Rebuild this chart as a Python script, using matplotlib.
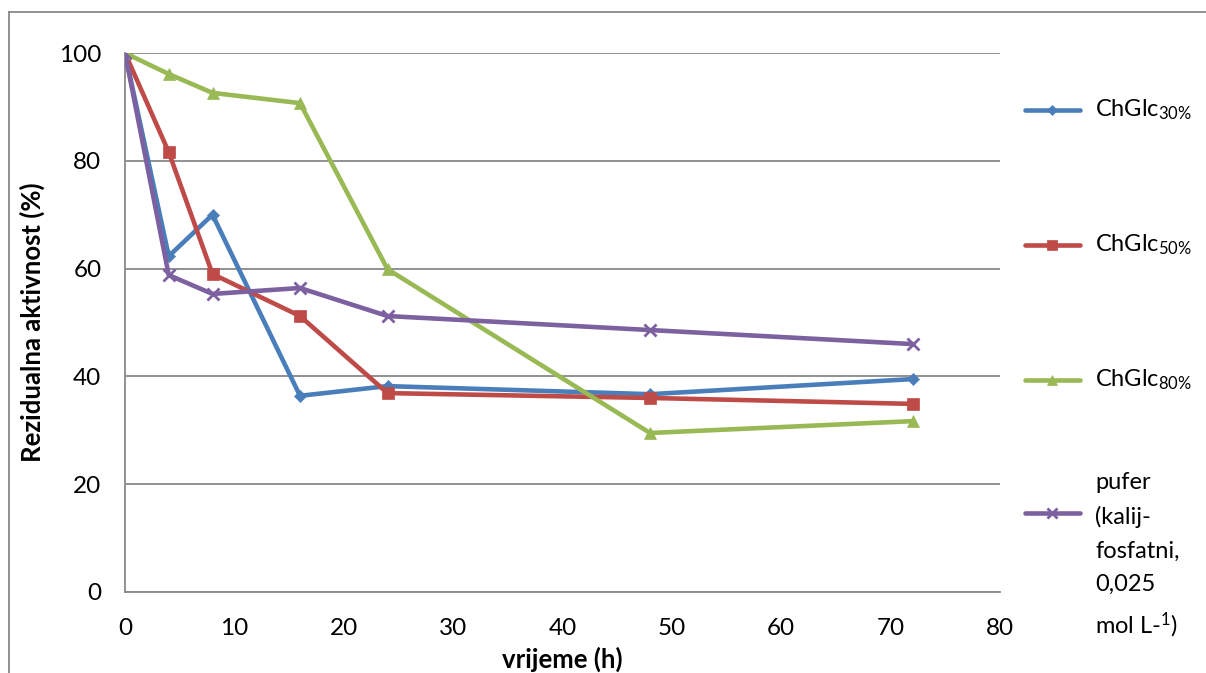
import matplotlib.pyplot as plt
from matplotlib.lines import Line2D

plt.rcParams['font.family'] = ['Lato', 'DejaVu Sans']
plt.rcParams['mathtext.fontset'] = 'custom'
plt.rcParams['mathtext.rm'] = 'Lato'
plt.rcParams['mathtext.it'] = 'Lato'

# vrijeme (h)
vrijeme = [0, 4, 8, 16, 24, 48, 72]
# rezidualna aktivnost (%)
chglc30 = [100, 62.3, 70.0, 36.4, 38.2, 36.7, 39.5]
chglc50 = [100, 81.6, 59.0, 51.2, 36.9, 36.0, 34.9]
chglc80 = [100, 96.1, 92.6, 90.7, 59.9, 29.5, 31.7]
pufer = [100, 58.8, 55.3, 56.4, 51.2, 48.6, 46.0]

labels = ['ChGlc$_{\\mathrm{30\\%}}$', 'ChGlc$_{\\mathrm{50\\%}}$', 'ChGlc$_{\\mathrm{80\\%}}$',
          'pufer\n(kalij-\nfosfatni,\n0,025\nmol L-$^{\\mathrm{1}}$)']
boje = ['#4A7EBB', '#BE4B48', '#98B954', '#7D60A0']
markeri = ['D', 's', '^', 'x']
msize = [6, 8, 8, 8]

W, H = 1206, 673
fig = plt.figure(figsize=(W / 100, H / 100), dpi=100)
ax = fig.add_axes([125 / W, 1 - 592 / H, 875 / W, 539 / H])

serije = [chglc30, chglc50, chglc80, pufer]
for i in range(4):
    ax.plot(vrijeme, serije[i], color=boje[i], lw=3.3, marker=markeri[i],
            markersize=msize[i], markeredgewidth=2 if markeri[i] == 'x' else 0.5,
            markeredgecolor=boje[i], zorder=3)

ax.set_xlim(0, 80)
ax.set_ylim(0, 100)
ax.set_xticks(range(0, 81, 10))
ax.set_yticks(range(0, 101, 20))
ax.yaxis.grid(True, color='#888888', lw=1.3)
ax.set_axisbelow(True)
for s in ['top', 'right']:
    ax.spines[s].set_visible(False)
for s in ['left', 'bottom']:
    ax.spines[s].set_color('#888888')
    ax.spines[s].set_linewidth(1.3)
ax.tick_params(axis='y', length=0, pad=17, labelsize=17.5)
ax.tick_params(axis='x', length=0, pad=19, labelsize=17.5)
ax.set_xlabel('vrijeme (h)', fontsize=18.5, fontweight='bold', labelpad=5)
ax.set_ylabel('Rezidualna aktivnost (%)', fontsize=18.5, fontweight='bold', labelpad=10)

# legenda desno
leg_y = [110, 245, 380, 513]
for i in range(4):
    y = 1 - leg_y[i] / H
    fig.add_artist(Line2D([1025 / W, 1080 / W], [y, y], color=boje[i], lw=3.3,
                          solid_capstyle='round'))
    fig.add_artist(Line2D([1052 / W], [y], color=boje[i], marker=markeri[i],
                          markersize=msize[i] - 1,
                          markeredgewidth=2 if markeri[i] == 'x' else 0.5))
for i in range(3):
    fig.text(1095 / W, 1 - leg_y[i] / H, labels[i], fontsize=17, va='center')
fig.text(1095 / W, 1 - 472 / H, labels[3], fontsize=17, va='top', linespacing=1.72)

# okvir grafikona
fig.add_artist(Line2D([9 / W, 9 / W], [0, 1 - 12 / H], color='#888888', lw=1.3))
fig.add_artist(Line2D([9 / W, 1], [1 - 12 / H, 1 - 12 / H], color='#888888', lw=1.3))

fig.savefig('out.png', dpi=100)
